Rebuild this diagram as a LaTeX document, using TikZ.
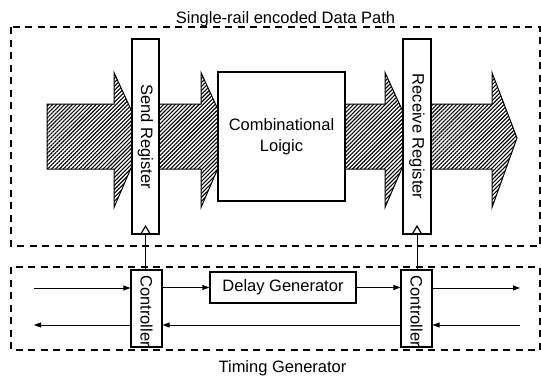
\documentclass[tikz,border=0pt]{standalone}
\usepackage{fontspec}
\setmainfont{Liberation Sans}
\usetikzlibrary{arrows.meta,patterns.meta}
\begin{document}
\begin{tikzpicture}[x=1pt,y=-1pt,
  font=\fontsize{16.5}{21}\selectfont,
  frame/.style={draw,line width=1.2pt,dash pattern=on 7pt off 5.5pt},
  box/.style={draw,line width=1.2pt,fill=white,inner sep=0pt},
  bus/.style={draw,line width=1pt,pattern={Lines[angle=45,distance=2.8pt,line width=1.1pt]}},
  sig/.style={line width=0.8pt,-{Triangle[length=7pt,width=5pt]}},
  lbl/.style={inner sep=0pt}]
\useasboundingbox (0,0) rectangle (541,375);

% dashed frames
\draw[frame] (11,27) rectangle (540,246);
\draw[frame] (11,267) rectangle (540,350);
\node[lbl,anchor=base] (t1) at (285.5,23) {Single-rail encoded Data Path};
\node[lbl,anchor=base] (t2) at (282.5,372.5) {Timing Generator};

% hatched data arrows
\draw[bus] (47,104) -- (114,104) -- (114,72.5) -- (144,138) -- (114,207.5) -- (114,169) -- (47,169) -- cycle;
\draw[bus] (150,104) -- (201,104) -- (201,72.5) -- (231,138) -- (201,207.5) -- (201,169) -- (150,169) -- cycle;
\draw[bus] (338,104) -- (385,104) -- (385,72.5) -- (415,138) -- (385,207.5) -- (385,169) -- (338,169) -- cycle;
\draw[bus] (425,104) -- (492,104) -- (492,72.5) -- (517,138) -- (492,207.5) -- (492,169) -- (425,169) -- cycle;

% registers and logic
\node[box,minimum width=27,minimum height=195] (sreg) at (145.5,136.5) {};
\node[box,minimum width=28,minimum height=195] (rreg) at (417,136.5) {};
\node[box,minimum width=127,minimum height=129] (comb) at (281.5,136.5) {};
\node[lbl,rotate=-90] (sregt) at (sreg.center) {Send Register};
\node[lbl,rotate=-90] (rregt) at (rreg.center) {Receive Register};
\node[lbl,align=center] (combt) at (281.5,137) {Combinational\\Loigic};

% clock triangles
\draw[line width=1.2pt,line join=miter] ([xshift=-5pt]sreg.south) -- ([yshift=8.5pt]sreg.south) -- ([xshift=5pt]sreg.south);
\draw[line width=1.2pt,line join=miter] ([xshift=-5pt]rreg.south) -- ([yshift=8.5pt]rreg.south) -- ([xshift=5pt]rreg.south);

% timing generator
\node[box,minimum width=31,minimum height=77] (cl) at (146.5,308.5) {};
\node[box,minimum width=31,minimum height=77] (cr) at (416.5,308.5) {};
\node[box,minimum width=146,minimum height=31] (dg) at (283,287.5) {};
\node[lbl] (dgt) at (dg.center) {Delay Generator};
\node[lbl,rotate=-90] (clt) at (146.5,311) {Controller};
\node[lbl,rotate=-90] (crt) at (416.5,311) {Controller};

% clock lines
\draw[line width=1pt] (sreg.south) -- (sreg.south |- cl.north);
\draw[line width=1pt] (rreg.south) -- (rreg.south |- cr.north);

% signal lines
\coordinate (inL) at (34,288);
\coordinate (outR) at (520,288);
\coordinate (inR) at (520,325);
\coordinate (outL) at (34,325);
\draw[sig] (inL) -- (inL -| cl.west);
\draw[sig] (cl.east |- dg.west) -- (dg.west);
\draw[sig] (dg.east) -- (dg.east -| cr.west);
\draw[sig] (cr.east |- outR) -- (outR);
\draw[sig] (inR) -- (inR -| cr.east);
\draw[sig] (cr.west |- inR) -- (cl.east |- inR);
\draw[sig] (cl.west |- inR) -- (outL);
\end{tikzpicture}
\end{document}
